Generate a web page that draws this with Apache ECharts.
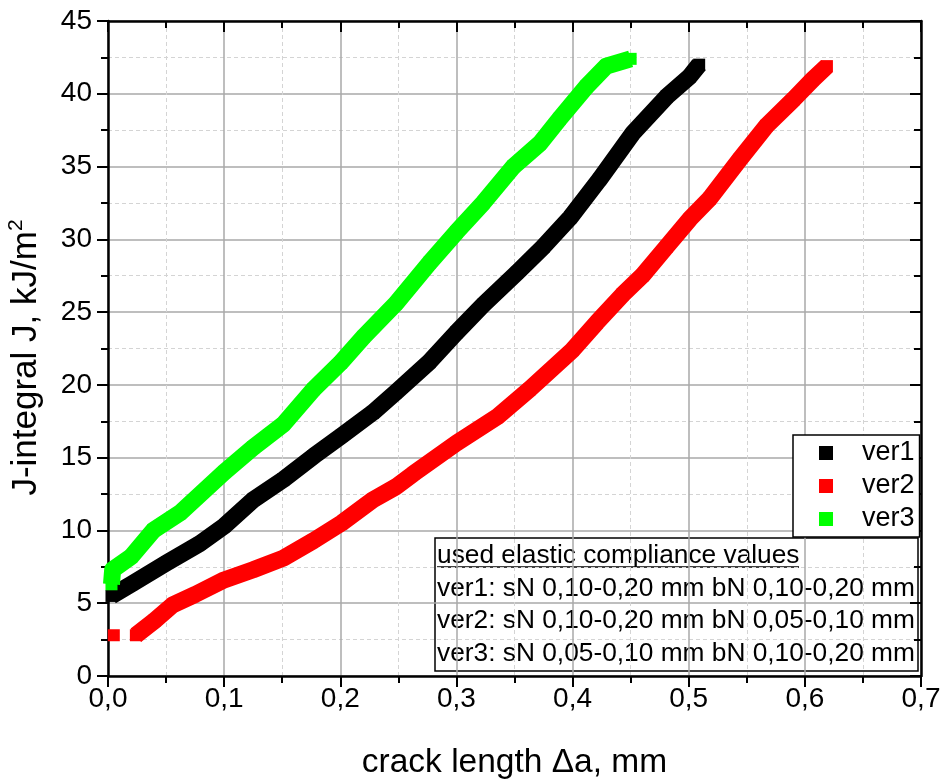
<!DOCTYPE html>
<html><head><meta charset="utf-8">
<script src="https://cdn.jsdelivr.net/npm/echarts@6/dist/echarts.min.js"></script>
<style>html,body{margin:0;padding:0;background:#fff}#c{width:943px;height:781px}</style>
</head><body><div id="c"></div>
<script>
const seriesNames = ['ver1', 'ver2', 'ver3'];
const seriesColors = ['#000000', '#ff0000', '#00ff00'];
const xTickLabels = ['0,0', '0,1', '0,2', '0,3', '0,4', '0,5', '0,6', '0,7'];
const yTickLabels = ['0', '5', '10', '15', '20', '25', '30', '35', '40', '45'];
const xTitle = 'crack length \u0394a, mm';
const yTitle = 'J-integral J, kJ/m';

const ver1 = [[0.003, 5.5], [0.02, 6.3], [0.051, 7.8], [0.079, 9.1], [0.1, 10.3], [0.125, 12.1],
  [0.151, 13.5], [0.177, 15.1], [0.201, 16.5], [0.228, 18.1], [0.248, 19.5], [0.277, 21.6],
  [0.3, 23.6], [0.323, 25.5], [0.352, 27.7], [0.375, 29.5], [0.398, 31.5], [0.423, 34.1],
  [0.452, 37.3], [0.481, 39.8], [0.501, 41.2], [0.509, 42.0]];
const ver2 = [[0.005, 2.8], [0.015, '-'], [0.024, 2.8], [0.04, 3.8], [0.056, 4.9], [0.075, 5.6],
  [0.1, 6.6], [0.125, 7.3], [0.151, 8.1], [0.177, 9.3], [0.201, 10.5], [0.228, 12.1],
  [0.248, 13.0], [0.263, 13.9], [0.3, 16.0], [0.335, 17.8], [0.363, 19.7], [0.4, 22.4],
  [0.421, 24.3], [0.443, 26.2], [0.46, 27.5], [0.481, 29.5], [0.501, 31.4], [0.518, 32.8],
  [0.544, 35.5], [0.567, 37.8], [0.59, 39.6], [0.607, 41.0], [0.619, 41.9]];
const ver3 = [[0.003, 6.3], [0.004, 7.3], [0.02, 8.2], [0.039, 10.0], [0.062, 11.2], [0.1, 14.0],
  [0.125, 15.7], [0.151, 17.3], [0.177, 19.7], [0.2, 21.5], [0.22, 23.3], [0.248, 25.6],
  [0.277, 28.4], [0.3, 30.5], [0.323, 32.5], [0.349, 35.0], [0.372, 36.6], [0.389, 38.3],
  [0.412, 40.5], [0.429, 41.9], [0.45, 42.4]];
const noteLines = ['used elastic compliance values',
  'ver1: sN 0,10-0,20 mm bN 0,10-0,20 mm',
  'ver2: sN 0,10-0,20 mm bN 0,05-0,10 mm',
  'ver3: sN 0,05-0,10 mm bN 0,10-0,20 mm'];

const FONT = 'Liberation Sans, Arial, sans-serif';
const seriesData = [ver1, ver2, ver3];

const chart = echarts.init(document.getElementById('c'), null, {renderer: 'canvas'});

function mainAxis(extra) {
  return Object.assign({
    type: 'value',
    axisLine: {show: true, onZero: false, lineStyle: {color: '#000', width: 2.5}},
    axisTick: {show: true, inside: false, length: 11, lineStyle: {color: '#000', width: 2}},
    minorTick: {show: true, splitNumber: 2, length: 7, lineStyle: {color: '#000', width: 2}},
    splitLine: {show: true, lineStyle: {color: '#a8a8a8', width: 1.5}},
    minorSplitLine: {show: true, lineStyle: {color: '#d4d4d4', width: 1, type: [4, 3]}},
    axisLabel: {color: '#000', fontSize: 28, fontFamily: FONT},
    nameTextStyle: {color: '#000', fontSize: 33, fontFamily: FONT}
  }, extra);
}
function mirrorAxis(extra) {
  return Object.assign({
    type: 'value',
    axisLine: {show: true, onZero: false, lineStyle: {color: '#000', width: 2.5}},
    axisTick: {show: true, inside: true, length: 11, lineStyle: {color: '#000', width: 2}},
    minorTick: {show: true, splitNumber: 2, length: 7, lineStyle: {color: '#000', width: 2}},
    splitLine: {show: false},
    axisLabel: {show: false}
  }, extra);
}

const noteChildren = [{
  type: 'rect', shape: {x: 435, y: 538, width: 483, height: 133},
  style: {fill: '#fff', stroke: '#000', lineWidth: 1.5}
}];
noteLines.forEach((t, i) => {
  noteChildren.push({
    type: 'text', x: 437, y: 556 + i * 32.6,
    style: {text: t, fill: '#000', fontSize: 26.3, fontFamily: FONT, verticalAlign: 'middle', align: 'left'}
  });
});
noteChildren.push({
  type: 'line', shape: {x1: 437, y1: 567, x2: 799, y2: 567},
  style: {stroke: '#000', lineWidth: 1.5}
});

chart.setOption({
  animation: false,
  backgroundColor: '#fff',
  grid: {left: 108, right: 22, top: 21, bottom: 105, containLabel: false, outerBoundsMode: 'none'},
  xAxis: [
    mainAxis({min: 0, max: 0.7, interval: 0.1, position: 'bottom',
      name: xTitle, nameLocation: 'middle', nameGap: 70,
      nameTextStyle: {color: '#000', fontSize: 33.5, fontFamily: FONT},
      axisLabel: {color: '#000', fontSize: 28, fontFamily: FONT, margin: 9,
        formatter: v => xTickLabels[Math.round(v / 0.1)]}}),
    mirrorAxis({min: 0, max: 0.7, interval: 0.1, position: 'top'})
  ],
  yAxis: [
    mainAxis({min: 0, max: 45, interval: 5, position: 'left',
      name: yTitle + '{sup|2}', nameLocation: 'middle', nameGap: 62,
      nameTextStyle: {color: '#000', fontSize: 35, fontFamily: FONT, lineHeight: 40, padding: [0, 18, 0, 0],
        rich: {sup: {fontSize: 21, fontFamily: FONT, color: '#000', verticalAlign: 'top', lineHeight: 40}}},
      axisLabel: {color: '#000', fontSize: 28, fontFamily: FONT, margin: 16,
        formatter: v => yTickLabels[Math.round(v / 5)]}}),
    mirrorAxis({min: 0, max: 45, interval: 5, position: 'right'})
  ],
  legend: {
    orient: 'vertical', left: 793, top: 435,
    data: seriesNames, icon: 'rect', itemWidth: 14, itemHeight: 14, itemGap: 5,
    backgroundColor: '#fff', borderColor: '#000', borderWidth: 1.5,
    padding: [4, 5, 4, 26],
    textStyle: {color: '#000', fontSize: 27, fontFamily: FONT, lineHeight: 28, padding: [0, 0, 0, 24]},
    selectedMode: false
  },
  series: seriesNames.map((n, i) => ({
    name: n, type: 'line', data: seriesData[i],
    xAxisIndex: 0, yAxisIndex: 0,
    symbol: 'rect', symbolSize: 12, showSymbol: true,
    color: seriesColors[i],
    itemStyle: {color: seriesColors[i]},
    lineStyle: {color: seriesColors[i], width: 17, join: 'round', cap: 'butt'},
    connectNulls: false,
    emphasis: {disabled: true},
    z: 3 + i
  })),
  graphic: [{type: 'group', z: 100, children: noteChildren}]
});
</script></body></html>
